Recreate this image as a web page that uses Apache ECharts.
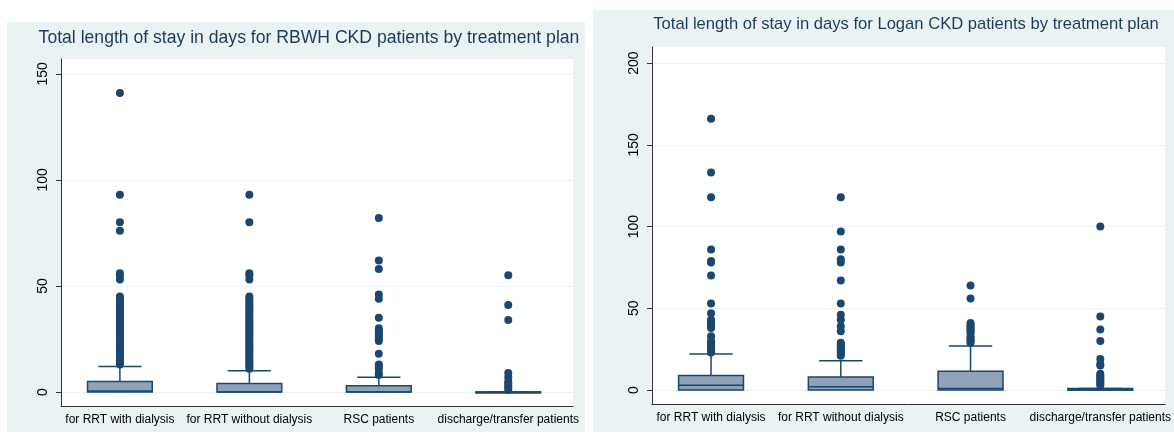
<!DOCTYPE html>
<html>
<head>
<meta charset="utf-8">
<script src="https://cdn.jsdelivr.net/npm/echarts@6/dist/echarts.min.js"></script>
<style>
  html, body { margin: 0; padding: 0; background: #fff; }
  #chart { width: 1174px; height: 435px; }
</style>
</head>
<body>
<div id="chart"></div>
<script>
const categories = ['for RRT with dialysis', 'for RRT without dialysis', 'RSC patients', 'discharge/transfer patients'];
const yTicks = [0, 50, 100, 150];
const yTicksLogan = [0, 50, 100, 150, 200];

// RBWH box stats
const rbwhQ1 = [0, 0, 0, 0];
const rbwhMedian = [0.5, 0, 0, 0];
const rbwhQ3 = [5, 4, 3, 0];
const rbwhWhisker = [12, 10, 7, 0];
const rbwhOutliers = [
  [13, 14, 15, 16, 17, 18, 19, 20, 21, 22, 23, 24, 25, 26, 27, 28, 29, 30, 31, 32, 33, 34, 35, 36, 37, 38, 39, 40, 41, 42, 43, 44, 45, 53, 55, 56, 76, 80, 93, 141],
  [11, 12, 13, 14, 15, 16, 17, 18, 19, 20, 21, 22, 23, 24, 25, 26, 27, 28, 29, 30, 31, 32, 33, 34, 35, 36, 37, 38, 39, 40, 41, 42, 43, 44, 45, 53, 55, 56, 80, 93],
  [8, 9, 11, 12, 13, 18, 24, 25, 26, 27, 28, 29, 30, 35, 44, 46, 58, 62, 82],
  [1, 2, 3, 4, 5, 7, 9, 34, 41, 55]
];

// Logan box stats
const loganQ1 = [0, 0, 0, 0];
const loganMedian = [3, 2, 1, 0];
const loganQ3 = [9, 8, 11.5, 1];
const loganWhisker = [22, 18, 27, 1];
const loganOutliers = [
  [23, 24, 25, 26, 27, 28, 29, 30, 33, 38, 39, 40, 41, 42, 43, 47, 53, 70, 78, 79, 86, 118, 133, 166],
  [21, 22, 23, 24, 25, 26, 27, 28, 29, 36, 39, 43, 46, 53, 67, 78, 80, 86, 97, 118],
  [29, 30, 31, 32, 33, 35, 36, 37, 38, 39, 40, 41, 56, 64],
  [3, 4, 5, 6, 7, 8, 9, 10, 15, 16, 19, 30, 37, 45, 100]
];

const navy = '#1a476f';
const boxFill = '#8fa3b8';
const panelBg = '#eaf2f3';
const font = 'Liberation Sans, Arial';

function boxData(q1, med, q3, wh) {
  return categories.map((c, i) => [i + 1, q1[i], med[i], q3[i], wh[i]]);
}

function outlierData(list) {
  const out = [];
  list.forEach((vals, i) => vals.forEach(v => out.push([i + 1, v])));
  return out;
}

function renderBox(params, api) {
  const x = api.value(0);
  const pQ1 = api.coord([x, api.value(1)]);
  const pMed = api.coord([x, api.value(2)]);
  const pQ3 = api.coord([x, api.value(3)]);
  const pWh = api.coord([x, api.value(4)]);
  const band = api.size([1, 0])[0];
  const half = band * 0.25;
  const capHalf = band * 0.167;
  const style = { stroke: navy, lineWidth: 1.5 };
  return {
    type: 'group',
    children: [
      { type: 'line', shape: { x1: pQ3[0], y1: pQ3[1], x2: pWh[0], y2: pWh[1] }, style },
      { type: 'line', shape: { x1: pWh[0] - capHalf, y1: pWh[1], x2: pWh[0] + capHalf, y2: pWh[1] }, style },
      {
        type: 'rect',
        shape: { x: pQ3[0] - half, y: pQ3[1], width: half * 2, height: Math.max(pQ1[1] - pQ3[1], 1) },
        style: { fill: boxFill, stroke: navy, lineWidth: 1.5 }
      },
      { type: 'line', shape: { x1: pMed[0] - half, y1: pMed[1], x2: pMed[0] + half, y2: pMed[1] }, style }
    ]
  };
}

function xAxisFor(idx, size) {
  return {
    type: 'value',
    gridIndex: idx,
    min: 0.545,
    max: 4.5,
    axisLine: { show: true, onZero: false, lineStyle: { color: '#333', width: 1 } },
    axisTick: { show: false },
    splitLine: { show: false },
    axisLabel: {
      customValues: [1, 2, 3, 4],
      formatter: v => categories[Math.round(v) - 1] || '',
      color: '#000',
      fontSize: size,
      fontFamily: font,
      margin: 8
    }
  };
}

function yAxisFor(idx, min, max, ticks, size) {
  return {
    type: 'value',
    gridIndex: idx,
    min: min,
    max: max,
    axisLine: { show: true, lineStyle: { color: '#333', width: 1 } },
    axisTick: { show: true, customValues: ticks, length: 5, lineStyle: { color: '#333' } },
    splitLine: { show: true, lineStyle: { color: panelBg, width: 1 } },
    axisLabel: {
      customValues: ticks,
      rotate: 90,
      color: '#000',
      fontSize: size,
      fontFamily: font,
      margin: 11
    }
  };
}

const chart = echarts.init(document.getElementById('chart'), null, { renderer: 'canvas' });

chart.setOption({
  animation: false,
  backgroundColor: '#fff',
  graphic: [
    { type: 'rect', left: 7, top: 22, shape: { width: 578, height: 410 }, style: { fill: panelBg }, z: -10 },
    { type: 'rect', left: 593, top: 10, shape: { width: 581, height: 422 }, style: { fill: panelBg }, z: -10 }
  ],
  title: [
    {
      text: 'Total length of stay in days for RBWH CKD patients by treatment plan',
      left: 304, top: 24, textAlign: 'center',
      textStyle: { fontSize: 17.6, fontWeight: 'normal', color: '#1d3a5c', fontFamily: font }
    },
    {
      text: 'Total length of stay in days for Logan CKD patients by treatment plan',
      left: 901, top: 11, textAlign: 'center',
      textStyle: { fontSize: 16.6, fontWeight: 'normal', color: '#1d3a5c', fontFamily: font }
    }
  ],
  grid: [
    { left: 61, right: 601, top: 59, bottom: 29, show: true, backgroundColor: '#fff', borderWidth: 0 },
    { left: 652, right: 0, top: 47, bottom: 31, show: true, backgroundColor: '#fff', borderWidth: 0 }
  ],
  xAxis: [xAxisFor(0, 12), xAxisFor(1, 12)],
  yAxis: [yAxisFor(0, -6.6, 157, yTicks, 14), yAxisFor(1, -8.5, 209.8, yTicksLogan, 14)],
  series: [
    {
      type: 'custom', xAxisIndex: 0, yAxisIndex: 0,
      renderItem: renderBox,
      data: boxData(rbwhQ1, rbwhMedian, rbwhQ3, rbwhWhisker), z: 3
    },
    {
      type: 'scatter', xAxisIndex: 0, yAxisIndex: 0,
      symbolSize: 8, itemStyle: { color: navy, opacity: 1 },
      data: outlierData(rbwhOutliers), z: 4
    },
    {
      type: 'custom', xAxisIndex: 1, yAxisIndex: 1,
      renderItem: renderBox,
      data: boxData(loganQ1, loganMedian, loganQ3, loganWhisker), z: 3
    },
    {
      type: 'scatter', xAxisIndex: 1, yAxisIndex: 1,
      symbolSize: 8, itemStyle: { color: navy, opacity: 1 },
      data: outlierData(loganOutliers), z: 4
    }
  ]
});
</script>
</body>
</html>
